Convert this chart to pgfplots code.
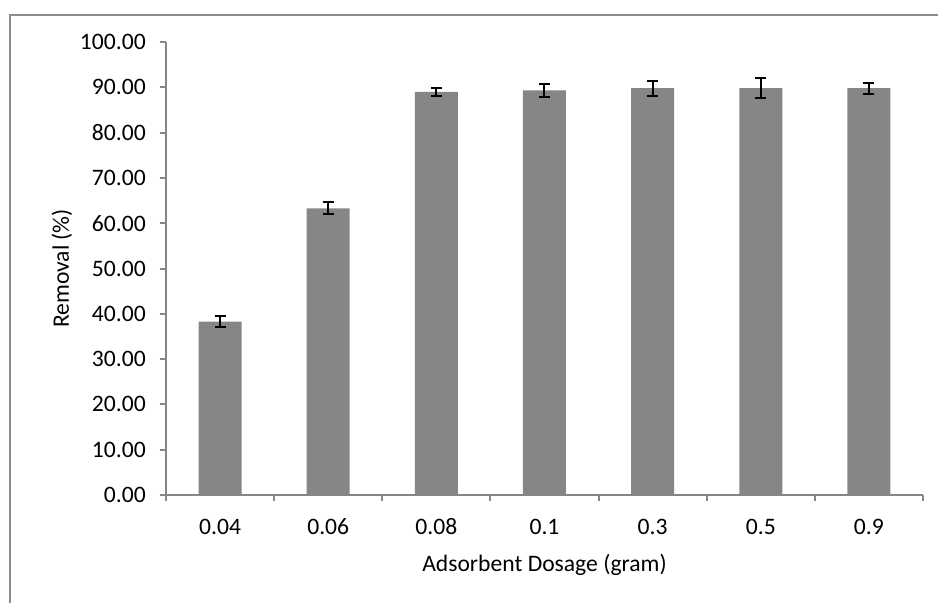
\documentclass[border=0pt]{standalone}
\usepackage{fontspec}
\setmainfont{Carlito}
\usepackage{pgfplots}
\pgfplotsset{compat=1.18}
\definecolor{bargray}{RGB}{134,134,134}
\definecolor{axgray}{RGB}{134,134,134}
\definecolor{framegray}{RGB}{140,140,140}
\begin{document}
\fontsize{11.8}{14}\selectfont
\begin{tikzpicture}
\useasboundingbox (-83pt,-53.5pt) rectangle (386pt,247.5pt);
\draw[framegray, line width=0.9pt] (-78pt,-60pt) -- (-78pt,240pt) -- (395pt,240pt);
\begin{axis}[
  at={(0,0)}, anchor=south west,
  scale only axis, width=378.5pt, height=226.5pt,
  xmin=-0.5, xmax=6.5, ymin=0, ymax=100,
  axis x line*=bottom, axis y line*=left,
  axis line style={axgray, line width=1pt, -},
  tick style={axgray, line width=1pt},
  tick align=outside, major tick length=3pt,
  ytick={0,10,...,100},
  yticklabels={0.00,10.00,20.00,30.00,40.00,50.00,60.00,70.00,80.00,90.00,100.00},
  yticklabel style={anchor=east, xshift=-3pt, font=\fontsize{11.8}{14}\selectfont},
  xtick={-0.5,0.5,1.5,2.5,3.5,4.5,5.5,6.5},
  xticklabels={{},{},{},{},{},{},{},{}},
  extra x ticks={0,1,2,3,4,5,6},
  extra x tick labels={0.04,0.06,0.08,0.1,0.3,0.5,0.9},
  extra x tick style={tick style={draw=none},
     xticklabel style={anchor=base, yshift=-16.5pt, inner sep=0pt, font=\fontsize{11.8}{14}\selectfont}},
  ylabel={Removal (\%)},
  xlabel={Adsorbent Dosage (gram)},
  ylabel style={at={(axis description cs:-0.1374,0.5)}, anchor=center, font=\fontsize{11.8}{14}\selectfont},
  xlabel style={at={(axis description cs:0.5,-0.1545)}, anchor=center, font=\fontsize{11.8}{14}\selectfont},
  ybar, bar width=21.5pt,
  clip=false,
]
\addplot[fill=bargray, draw=none,
  error bars/.cd, y dir=both, y explicit,
  error bar style={black, line width=1pt},
  error mark options={black, line width=1pt, mark size=2.75pt, rotate=90}]
  coordinates {
  (0,38.3) +- (0,1.2)
  (1,63.3) +- (0,1.3)
  (2,89.0) +- (0,0.9)
  (3,89.3) +- (0,1.5)
  (4,89.8) +- (0,1.65)
  (5,89.8) +- (0,2.2)
  (6,89.8) +- (0,1.25)
  };
\end{axis}
\end{tikzpicture}
\end{document}
